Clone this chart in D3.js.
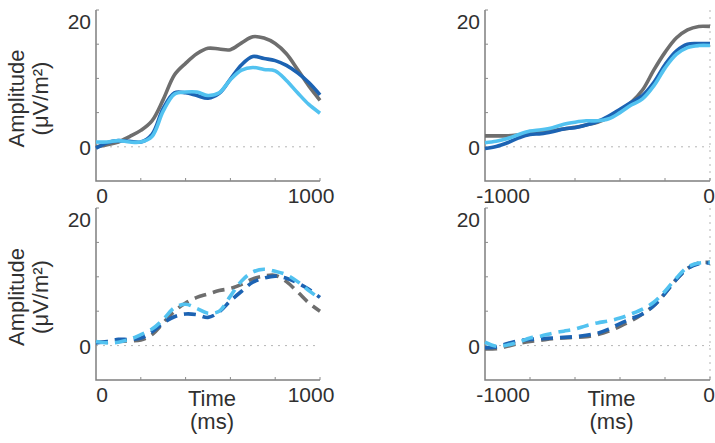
<!DOCTYPE html>
<html>
<head>
<meta charset="utf-8">
<script src="https://cdn.jsdelivr.net/npm/d3@7"></script>
<style>
	body { margin: 0; background: #fff; }
	text { font-family: "Liberation Sans", Arial, sans-serif; fill: #303030; }
</style>
</head>
<body>
<div id="chart"></div>
<script>
// time grids (ms)
var timeStim = [0,50,100,150,200,250,300,350,400,450,500,550,600,650,700,750,800,850,900,950,1000];
var timeResp = [-1000,-950,-900,-850,-800,-750,-700,-650,-600,-550,-500,-450,-400,-350,-300,-250,-200,-150,-100,-50,0];

// top row, solid lines (stimulus locked)
var stimGrey  = [0.0,0.3,0.7,1.5,2.4,3.8,6.9,10.5,12.2,13.6,14.4,14.3,14.2,15.2,16.1,15.9,15.1,13.6,11.3,8.9,6.8];
var stimDark  = [-0.2,0.6,0.9,0.8,0.7,1.8,5.6,7.9,7.9,7.5,7.1,7.8,9.9,12.0,13.2,12.9,12.6,11.9,10.8,9.4,7.6];
var stimLight = [0.7,0.7,0.9,0.7,0.7,1.5,5.2,7.7,8.0,8.0,7.5,7.9,9.8,11.2,11.6,11.3,11.1,9.7,7.9,6.2,4.9];

// top row, solid lines (response locked)
var respGrey  = [1.6,1.6,1.6,1.75,1.95,2.15,2.4,2.6,2.85,3.2,3.6,4.3,5.3,6.5,8.3,11.2,13.8,15.9,17.1,17.6,17.6];
var respDark  = [-0.25,0.05,0.6,1.3,1.8,1.9,2.2,2.6,2.8,3.2,3.7,4.5,5.5,6.5,7.5,9.4,12.0,14.0,15.0,15.1,15.1];
var respLight = [0.6,0.8,1.2,1.8,2.3,2.5,2.8,3.3,3.6,3.8,3.8,4.1,5.0,6.1,7.0,8.9,11.5,13.5,14.5,14.8,14.8];

// bottom row, dashed lines (stimulus locked)
var stimGreyDash  = [0.5,0.5,0.6,0.7,0.8,1.6,3.3,5.0,6.2,7.0,7.5,8.0,8.3,8.9,9.7,10.1,10.2,9.3,7.8,6.2,5.0];
var stimDarkDash  = [0.4,0.6,0.9,0.9,1.1,2.0,3.3,4.2,4.6,4.5,4.1,4.9,6.5,7.9,9.2,9.8,10.1,9.8,9.1,8.2,7.0];
var stimLightDash = [0.6,0.4,0.5,0.9,1.6,2.4,3.8,5.5,6.0,5.4,4.7,5.0,7.2,9.4,10.7,11.1,10.8,10.3,9.3,8.0,6.8];

// bottom row, dashed lines (response locked)
var respGreyDash  = [-0.5,-0.45,-0.1,0.3,0.6,0.8,1.0,1.1,1.2,1.3,1.6,2.1,2.8,3.6,4.6,5.8,7.6,9.6,11.2,12.0,12.1];
var respDarkDash  = [-0.3,-0.2,0.3,0.7,0.9,1.0,1.1,1.2,1.3,1.5,1.8,2.4,3.2,3.9,4.6,5.8,7.6,9.6,11.2,11.9,12.0];
var respLightDash = [0.5,-0.1,0.1,0.5,1.1,1.4,1.8,2.1,2.4,2.9,3.3,3.6,4.0,4.6,5.3,6.3,7.9,9.8,11.4,12.0,12.1];

var yMinorTicks = [5,10,15,20];
var yTickLabels = [0,20];
var stimTicks = [0,200,400,600,800,1000];
var respTicks = [-1000,-800,-600,-400,-200,0];
var stimTickLabels = [0,1000];
var respTickLabels = [-1000,0];

function init(){
	var w = 715;
	var h = 443;

	var colors = ["#6e6e6e", "#1c63b3", "#52c2f0"];

	var svg = d3.select("#chart")
				.append("svg")
				.attr("width", w)
				.attr("height", h);

	var panels = [
		{x0: 96,  x1: 320, y0: 10,  y1: 181, times: timeStim, domain: [0,1000],  ticks: stimTicks, labels: stimTickLabels, lOff: [6,-9],  series: [stimGrey, stimDark, stimLight], dashed: false, ylab: true,  time: false},
		{x0: 485, x1: 710, y0: 10,  y1: 181, times: timeResp, domain: [-1000,0], ticks: respTicks, labels: respTickLabels, lOff: [18,-1], series: [respGrey, respDark, respLight], dashed: false, ylab: false, time: false},
		{x0: 96,  x1: 320, y0: 208, y1: 380, times: timeStim, domain: [0,1000],  ticks: stimTicks, labels: stimTickLabels, lOff: [6,-9],  series: [stimGreyDash, stimDarkDash, stimLightDash], dashed: true, ylab: true,  time: true},
		{x0: 485, x1: 710, y0: 208, y1: 380, times: timeResp, domain: [-1000,0], ticks: respTicks, labels: respTickLabels, lOff: [18,-1], series: [respGreyDash, respDarkDash, respLightDash], dashed: true, ylab: false, time: true}
	];

	panels.forEach(function(p){
		var x = d3.scaleLinear().domain(p.domain).range([p.x0, p.x1]);
		var y = d3.scaleLinear().domain([-5, 20]).range([p.y1, p.y0]);
		var g = svg.append("g");

		//zero line
		g.append("line")
			.attr("x1", x(p.domain[0])).attr("x2", x(p.domain[1]))
			.attr("y1", y(0)).attr("y2", y(0))
			.attr("stroke", "#b5b5b5")
			.attr("stroke-width", 1)
			.attr("stroke-dasharray", "2,5");

		//time zero line on response locked panels
		if (p.domain[1] == 0) {
			g.append("line")
				.attr("x1", x(0)).attr("x2", x(0))
				.attr("y1", y(20)).attr("y2", y(-5))
				.attr("stroke", "#b5b5b5")
				.attr("stroke-width", 1)
				.attr("stroke-dasharray", "2,5");
		}

		//spines
		g.append("path")
			.attr("d", "M" + x(p.domain[0]) + "," + y(20) + "V" + y(-5) + "H" + x(p.domain[1]))
			.attr("fill", "none")
			.attr("stroke", "#7f7f7f")
			.attr("stroke-width", 1.5);

		g.selectAll(".ytick")
			.data(yMinorTicks)
			.enter()
			.append("line")
			.attr("x1", x(p.domain[0])).attr("x2", x(p.domain[0]) + 3)
			.attr("y1", function(d){ return y(d); })
			.attr("y2", function(d){ return y(d); })
			.attr("stroke", "#8a8a8a");

		g.selectAll(".xtick")
			.data(p.ticks.slice(1))
			.enter()
			.append("line")
			.attr("x1", function(d){ return x(d); })
			.attr("x2", function(d){ return x(d); })
			.attr("y1", y(-5)).attr("y2", y(-5) - 3)
			.attr("stroke", "#8a8a8a");

		//tick labels
		g.selectAll(".ylabel")
			.data(yTickLabels)
			.enter()
			.append("text")
			.attr("x", x(p.domain[0]) - 5)
			.attr("y", function(d){ return y(d) + (d == 20 ? 19 : 8); })
			.attr("text-anchor", "end")
			.style("font-size", "21px")
			.text(function(d){ return d; });

		g.selectAll(".xlabel")
			.data(p.labels)
			.enter()
			.append("text")
			.attr("x", function(d, i){ return x(d) + p.lOff[i]; })
			.attr("y", y(-5) + 22)
			.attr("text-anchor", "middle")
			.style("font-size", "21px")
			.text(function(d){ return d; });

		//lines
		p.series.forEach(function(vals, k){
			var line = d3.line()
				.x(function(d, i){ return x(p.times[i]); })
				.y(function(d){ return y(d); })
				.curve(d3.curveCatmullRom.alpha(0.5));
			g.append("path")
				.datum(vals)
				.attr("d", line)
				.attr("fill", "none")
				.attr("stroke", colors[k])
				.attr("stroke-width", 3.6)
				.attr("stroke-dasharray", p.dashed ? "12,7" : null);
		});

		//axis titles
		if (p.ylab) {
			var cy = (p.y0 + p.y1) / 2 + 3;
			svg.append("text")
				.attr("transform", "translate(24," + cy + ") rotate(-90)")
				.attr("text-anchor", "middle")
				.style("font-size", "22px")
				.text("Amplitude");
			svg.append("text")
				.attr("transform", "translate(48," + cy + ") rotate(-90)")
				.attr("text-anchor", "middle")
				.style("font-size", "22px")
				.text("(μV/m²)");
		}
		if (p.time) {
			var cx = (p.x0 + p.x1) / 2 + (p.domain[1] == 0 ? 14 : 4);
			svg.append("text")
				.attr("x", cx).attr("y", 406)
				.attr("text-anchor", "middle")
				.style("font-size", "22px")
				.text("Time");
			svg.append("text")
				.attr("x", cx).attr("y", 429)
				.attr("text-anchor", "middle")
				.style("font-size", "22px")
				.text("(ms)");
		}
	});
}

window.onload = init;
</script>
</body>
</html>
